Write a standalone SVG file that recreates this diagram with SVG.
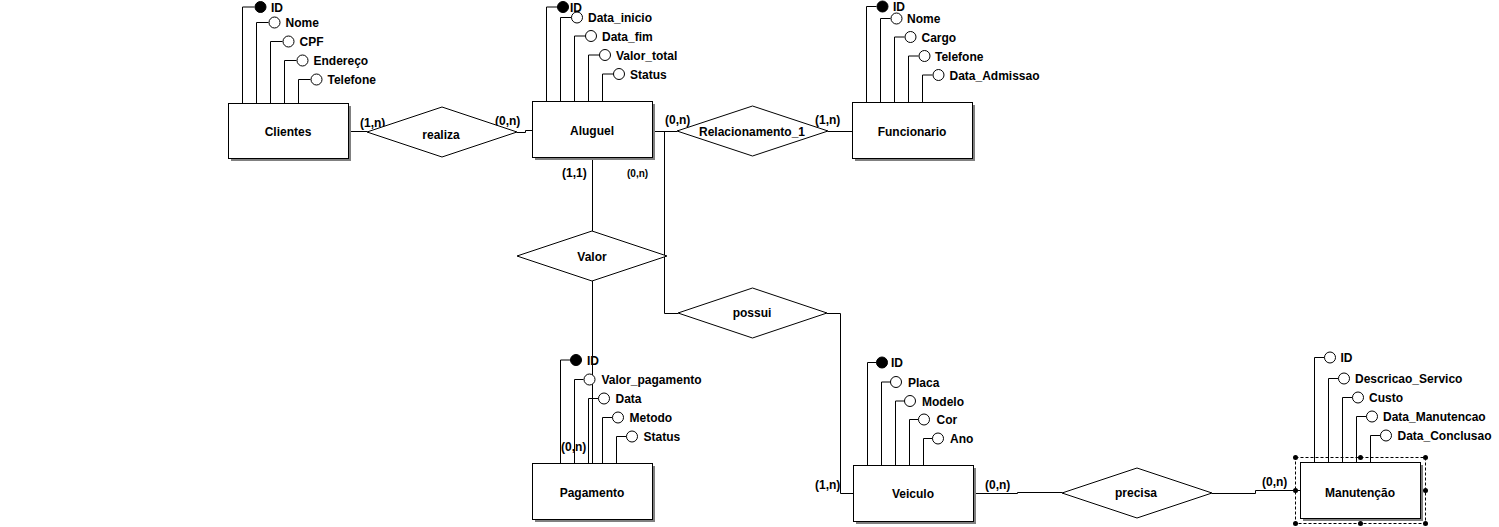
<svg xmlns="http://www.w3.org/2000/svg" width="1499" height="527" viewBox="0 0 1499 527">
<style>
text{font-family:"Liberation Sans",Arial,sans-serif;font-weight:bold;font-size:12px;fill:#000}
.c{text-anchor:middle}
.sm{font-size:10px}
.ln{fill:none;stroke:#000;stroke-width:1}
.box{fill:#fff;stroke:#000;stroke-width:1}
.sh{fill:#808080}
.att{fill:#fff;stroke:#000;stroke-width:1}
.key{fill:#000;stroke:#000;stroke-width:1}
.rel{fill:#fff;stroke:#000;stroke-width:1}
</style>
<rect width="1499" height="527" fill="#fff"/>
<g id="connectors">
<path class="ln" d="M348,131.5H367"/>
<path class="ln" d="M517,132.5H525.5V130.5H532"/>
<path class="ln" d="M652,131.5H677"/>
<path class="ln" d="M664.5,131.5V313.5H678"/>
<path class="ln" d="M828,131.5H852"/>
<path class="ln" d="M592.5,157V231"/>
<path class="ln" d="M592.5,281V463"/>
<path class="ln" d="M827,313.5H840.5V493.5H853"/>
<path class="ln" d="M973,493.5H1017.5V492.5H1062"/>
<path class="ln" d="M1212,493.5H1255.5V490.5H1300"/>
<text x="360" y="127">(1,n)</text>
<text x="495" y="125">(0,n)</text>
<text x="665" y="124">(0,n)</text>
<text x="815" y="124">(1,n)</text>
<text x="562" y="177">(1,1)</text>
<text class="sm" x="627" y="177">(0,n)</text>
<text x="561" y="451">(0,n)</text>
<text x="815" y="489">(1,n)</text>
<text x="985" y="489">(0,n)</text>
<text x="1262" y="486">(0,n)</text>
</g>
<g id="realiza">
<polygon class="rel" points="367,132 442,107 517,132 442,157"/>
<text class="c" x="441" y="139">realiza</text>
</g>
<g id="relacionamento_1">
<polygon class="rel" points="677,131 752.5,106 828,131 752.5,156"/>
<text class="c" x="752" y="136">Relacionamento_1</text>
</g>
<g id="valor">
<polygon class="rel" points="517,256 592,231 667,256 592,281"/>
<text class="c" x="592" y="261">Valor</text>
</g>
<g id="possui">
<polygon class="rel" points="678,313 752.5,288 827,313 752.5,338"/>
<text class="c" x="752" y="317">possui</text>
</g>
<g id="precisa">
<polygon class="rel" points="1062,493 1137,468 1212,493 1137,518"/>
<text class="c" x="1136" y="497">precisa</text>
</g>
<g id="clientes">
<path class="ln" d="M242.5,103V7H254.5M256.5,103V22.5H268.5M270.5,103V41.5H282.5M284.5,103V60.5H296.5M298.5,103V79.5H310.5"/>
<circle class="key" cx="260.5" cy="7" r="5.5"/>
<circle class="att" cx="274.5" cy="22.5" r="5.5"/>
<circle class="att" cx="288.5" cy="41.5" r="5.5"/>
<circle class="att" cx="302.5" cy="60.5" r="5.5"/>
<circle class="att" cx="316.5" cy="79.5" r="5.5"/>
<text x="271" y="11.5">ID</text>
<text x="285.5" y="27">Nome</text>
<text x="299.5" y="46">CPF</text>
<text x="313.5" y="65">Endereço</text>
<text x="327.5" y="84">Telefone</text>
<rect class="sh" x="231" y="106" width="120" height="55"/>
<rect class="box" x="228.5" y="103.5" width="120" height="55"/>
<text class="c" x="288" y="136">Clientes</text>
</g>
<g id="aluguel">
<path class="ln" d="M546.5,101V7H557.5M560.5,101V17.5H571.5M574.5,101V36H585.5M588.5,101V55H599.5M602.5,101V74H613.5"/>
<circle class="key" cx="563" cy="7" r="5.5"/>
<circle class="att" cx="577" cy="17.5" r="5.5"/>
<circle class="att" cx="591" cy="36" r="5.5"/>
<circle class="att" cx="605" cy="55" r="5.5"/>
<circle class="att" cx="619" cy="74" r="5.5"/>
<text x="570" y="11.5">ID</text>
<text x="588" y="22">Data_inicio</text>
<text x="602" y="40.5">Data_fim</text>
<text x="616" y="59.5">Valor_total</text>
<text x="630" y="78.5">Status</text>
<rect class="sh" x="535" y="104" width="120" height="56"/>
<rect class="box" x="532.5" y="101.5" width="120" height="56"/>
<text class="c" x="592" y="135">Aluguel</text>
</g>
<g id="funcionario">
<path class="ln" d="M866.5,102V6.5H876.5M880.5,102V18.5H890.5M894.5,102V37H904.5M908.5,102V56H918.5M922.5,102V75H932.5"/>
<circle class="key" cx="882.5" cy="6.5" r="5.5"/>
<circle class="att" cx="896.5" cy="18.5" r="5.5"/>
<circle class="att" cx="910.5" cy="37" r="5.5"/>
<circle class="att" cx="924.5" cy="56" r="5.5"/>
<circle class="att" cx="938.5" cy="75" r="5.5"/>
<text x="893" y="11">ID</text>
<text x="907" y="23">Nome</text>
<text x="921.5" y="41.5">Cargo</text>
<text x="935" y="60.5">Telefone</text>
<text x="949.5" y="79.5">Data_Admissao</text>
<rect class="sh" x="855" y="105" width="120" height="56"/>
<rect class="box" x="852.5" y="102.5" width="120" height="56"/>
<text class="c" x="912" y="136">Funcionario</text>
</g>
<g id="pagamento">
<path class="ln" d="M560.5,463V360H570.5M574.5,463V379.5H583.5M588.5,463V398.5H598.5M602.5,463V417.5H612.5M616.5,463V436.5H626.5"/>
<circle class="key" cx="576" cy="360" r="5.5"/>
<circle class="att" cx="589.5" cy="379.5" r="5.5"/>
<circle class="att" cx="604" cy="398.5" r="5.5"/>
<circle class="att" cx="618" cy="417.5" r="5.5"/>
<circle class="att" cx="632" cy="436.5" r="5.5"/>
<text x="587" y="364.5">ID</text>
<text x="601.5" y="384">Valor_pagamento</text>
<text x="615.5" y="403">Data</text>
<text x="629.5" y="422">Metodo</text>
<text x="643.5" y="441">Status</text>
<rect class="sh" x="535" y="466" width="120" height="56"/>
<rect class="box" x="532.5" y="463.5" width="120" height="56"/>
<text class="c" x="592" y="497">Pagamento</text>
</g>
<g id="veiculo">
<path class="ln" d="M867.5,465V362.5H876.5M881.5,465V382H890.5M895.5,465V401H904.5M909.5,465V419.5H918.5M923.5,465V438.5H932.5"/>
<circle class="key" cx="882" cy="362.5" r="5.5"/>
<circle class="att" cx="896" cy="382" r="5.5"/>
<circle class="att" cx="910" cy="401" r="5.5"/>
<circle class="att" cx="924" cy="419.5" r="5.5"/>
<circle class="att" cx="938" cy="438.5" r="5.5"/>
<text x="891" y="367">ID</text>
<text x="908" y="386.5">Placa</text>
<text x="922" y="405.5">Modelo</text>
<text x="936.5" y="424">Cor</text>
<text x="950" y="443">Ano</text>
<rect class="sh" x="856" y="468" width="120" height="56"/>
<rect class="box" x="853.5" y="465.5" width="120" height="56"/>
<text class="c" x="913" y="498">Veiculo</text>
</g>
<g id="manutencao">
<path class="ln" d="M1314.5,462V357.5H1324.5M1328.5,462V378.5H1338.5M1342.5,462V397.5H1352.5M1356.5,462V416.5H1366.5M1370.5,462V435.5H1380.5"/>
<circle class="att" cx="1330" cy="357.5" r="5.5"/>
<circle class="att" cx="1344" cy="378.5" r="5.5"/>
<circle class="att" cx="1358" cy="397.5" r="5.5"/>
<circle class="att" cx="1372" cy="416.5" r="5.5"/>
<circle class="att" cx="1386" cy="435.5" r="5.5"/>
<text x="1340.5" y="362">ID</text>
<text x="1355" y="383">Descricao_Servico</text>
<text x="1369" y="402">Custo</text>
<text x="1383" y="421">Data_Manutencao</text>
<text x="1397.5" y="440">Data_Conclusao</text>
<rect class="sh" x="1303" y="465" width="120" height="56"/>
<rect class="box" x="1300.5" y="462.5" width="120" height="56"/>
<text class="c" x="1360" y="497">Manutenção</text>
<rect x="1295.5" y="457.5" width="130" height="66" fill="none" stroke="#000" stroke-width="1" stroke-dasharray="3,2"/>
<g fill="#000">
<circle cx="1295.5" cy="457.5" r="2.5"/><circle cx="1360.5" cy="457.5" r="2.5"/><circle cx="1425.5" cy="457.5" r="2.5"/>
<circle cx="1295.5" cy="490.5" r="2.5"/><circle cx="1425.5" cy="490.5" r="2.5"/>
<circle cx="1295.5" cy="523.5" r="2.5"/><circle cx="1360.5" cy="523.5" r="2.5"/><circle cx="1425.5" cy="523.5" r="2.5"/>
</g>
</g>
</svg>
